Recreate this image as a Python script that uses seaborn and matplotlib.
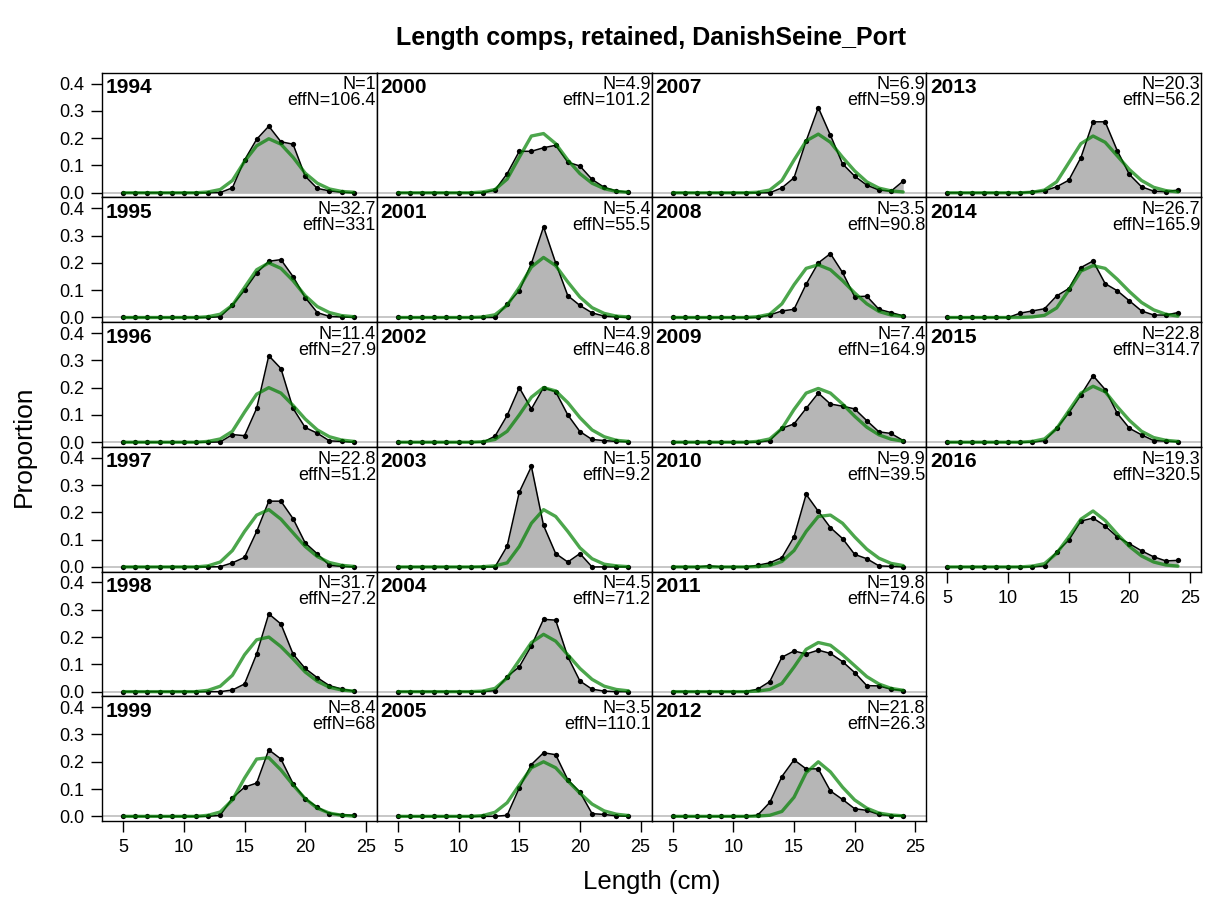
import matplotlib
matplotlib.use("Agg")
import matplotlib.pyplot as plt
import seaborn as sns
import numpy as np
import pandas as pd

# ---------------- data ----------------
bins = list(range(5, 25))

years_col1 = [1994, 1995, 1996, 1997, 1998, 1999]
years_col2 = [2000, 2001, 2002, 2003, 2004, 2005]
years_col3 = [2007, 2008, 2009, 2010, 2011, 2012]
years_col4 = [2013, 2014, 2015, 2016]

N_vals = {1994: "1", 1995: "32.7", 1996: "11.4", 1997: "22.8", 1998: "31.7", 1999: "8.4",
          2000: "4.9", 2001: "5.4", 2002: "4.9", 2003: "1.5", 2004: "4.5", 2005: "3.5",
          2007: "6.9", 2008: "3.5", 2009: "7.4", 2010: "9.9", 2011: "19.8", 2012: "21.8",
          2013: "20.3", 2014: "26.7", 2015: "22.8", 2016: "19.3"}
effN_vals = {1994: "106.4", 1995: "331", 1996: "27.9", 1997: "51.2", 1998: "27.2", 1999: "68",
             2000: "101.2", 2001: "55.5", 2002: "46.8", 2003: "9.2", 2004: "71.2", 2005: "110.1",
             2007: "59.9", 2008: "90.8", 2009: "164.9", 2010: "39.5", 2011: "74.6", 2012: "26.3",
             2013: "56.2", 2014: "165.9", 2015: "314.7", 2016: "320.5"}

# observed proportions, bins 5..24
obs_1994 = [0, 0, 0, 0, 0, 0, 0, 0, 0.001, 0.018, 0.120, 0.196, 0.244, 0.187, 0.178, 0.061, 0.016, 0.007, 0.002, 0.0]
obs_1995 = [0, 0, 0, 0, 0, 0, 0, 0, 0.003, 0.045, 0.100, 0.163, 0.206, 0.212, 0.150, 0.073, 0.018, 0.004, 0.002, 0.0]
obs_1996 = [0, 0, 0, 0, 0, 0, 0, 0, 0.001, 0.028, 0.024, 0.124, 0.317, 0.270, 0.124, 0.054, 0.033, 0.005, 0.003, 0.0]
obs_1997 = [0, 0, 0, 0, 0, 0, 0, 0, 0.001, 0.015, 0.035, 0.130, 0.241, 0.241, 0.177, 0.088, 0.048, 0.006, 0.002, 0.0]
obs_1998 = [0, 0, 0, 0, 0, 0, 0, 0, 0.0, 0.006, 0.028, 0.138, 0.285, 0.248, 0.138, 0.085, 0.051, 0.022, 0.010, 0.002]
obs_1999 = [0, 0, 0, 0, 0, 0, 0, 0, 0.004, 0.067, 0.107, 0.122, 0.244, 0.210, 0.120, 0.065, 0.034, 0.010, 0.006, 0.004]
obs_2000 = [0, 0, 0, 0, 0, 0, 0, 0, 0.010, 0.070, 0.152, 0.152, 0.165, 0.174, 0.112, 0.098, 0.049, 0.020, 0.007, 0.002]
obs_2001 = [0, 0, 0, 0, 0, 0, 0, 0, 0.0, 0.049, 0.098, 0.198, 0.332, 0.200, 0.080, 0.044, 0.017, 0.005, 0.002, 0.0]
obs_2002 = [0, 0, 0, 0, 0, 0, 0, 0, 0.022, 0.098, 0.200, 0.122, 0.200, 0.185, 0.100, 0.039, 0.010, 0.006, 0.003, 0.002]
obs_2003 = [0, 0, 0, 0, 0, 0, 0, 0, 0.0, 0.076, 0.274, 0.368, 0.152, 0.049, 0.018, 0.049, 0.0, 0.0, 0.0, 0.0]
obs_2004 = [0, 0, 0, 0, 0, 0, 0, 0, 0.004, 0.055, 0.091, 0.168, 0.265, 0.262, 0.128, 0.039, 0.009, 0.002, 0.0, 0.0]
obs_2005 = [0, 0, 0, 0, 0, 0, 0, 0, 0.0, 0.004, 0.104, 0.190, 0.233, 0.226, 0.134, 0.089, 0.010, 0.007, 0.002, 0.0]
obs_2007 = [0, 0, 0, 0, 0, 0, 0, 0, 0.0, 0.018, 0.055, 0.190, 0.312, 0.211, 0.106, 0.061, 0.028, 0.010, 0.006, 0.043]
obs_2008 = [0, 0, 0, 0, 0, 0, 0, 0, 0.009, 0.024, 0.030, 0.122, 0.200, 0.234, 0.165, 0.076, 0.078, 0.030, 0.018, 0.006]
obs_2009 = [0, 0, 0, 0, 0, 0, 0, 0, 0.006, 0.051, 0.067, 0.124, 0.180, 0.140, 0.132, 0.122, 0.079, 0.038, 0.032, 0.006]
obs_2010 = [0, 0, 0, 0.004, 0, 0, 0, 0.006, 0.015, 0.034, 0.110, 0.266, 0.204, 0.144, 0.104, 0.046, 0.030, 0.004, 0.002, 0.0]
obs_2011 = [0, 0, 0, 0, 0, 0, 0, 0.009, 0.037, 0.126, 0.149, 0.138, 0.152, 0.140, 0.110, 0.070, 0.022, 0.021, 0.009, 0.004]
obs_2012 = [0, 0, 0, 0, 0, 0, 0, 0.004, 0.051, 0.146, 0.207, 0.174, 0.174, 0.093, 0.062, 0.028, 0.022, 0.007, 0.002, 0.002]
obs_2013 = [0, 0, 0, 0, 0, 0, 0, 0.004, 0.007, 0.022, 0.046, 0.129, 0.260, 0.260, 0.154, 0.067, 0.022, 0.006, 0.004, 0.010]
obs_2014 = [0, 0, 0, 0, 0, 0, 0.016, 0.024, 0.032, 0.079, 0.106, 0.183, 0.207, 0.124, 0.098, 0.061, 0.024, 0.009, 0.009, 0.018]
obs_2015 = [0, 0, 0, 0, 0, 0, 0, 0, 0.006, 0.051, 0.107, 0.173, 0.244, 0.193, 0.106, 0.051, 0.027, 0.006, 0.004, 0.002]
obs_2016 = [0, 0, 0, 0, 0, 0, 0, 0, 0.004, 0.055, 0.098, 0.168, 0.179, 0.150, 0.110, 0.085, 0.059, 0.037, 0.022, 0.024]

# expected proportions, bins 5..24
exp_1994 = [0, 0, 0, 0, 0, 0, 0, 0.003, 0.012, 0.045, 0.115, 0.172, 0.198, 0.178, 0.130, 0.072, 0.035, 0.014, 0.005, 0.002]
exp_1995 = [0, 0, 0, 0, 0, 0, 0, 0.003, 0.012, 0.045, 0.110, 0.175, 0.200, 0.180, 0.135, 0.080, 0.040, 0.018, 0.007, 0.003]
exp_1996 = [0, 0, 0, 0, 0, 0, 0, 0.003, 0.012, 0.040, 0.110, 0.176, 0.200, 0.180, 0.135, 0.085, 0.045, 0.020, 0.008, 0.003]
exp_1997 = [0, 0, 0, 0, 0, 0, 0, 0.004, 0.018, 0.060, 0.130, 0.190, 0.210, 0.175, 0.125, 0.075, 0.038, 0.016, 0.006, 0.002]
exp_1998 = [0, 0, 0, 0, 0, 0, 0, 0.005, 0.020, 0.060, 0.135, 0.190, 0.200, 0.165, 0.120, 0.072, 0.038, 0.016, 0.006, 0.002]
exp_1999 = [0, 0, 0, 0, 0, 0, 0, 0.004, 0.016, 0.060, 0.140, 0.210, 0.215, 0.170, 0.115, 0.065, 0.030, 0.012, 0.004, 0.001]
exp_2000 = [0, 0, 0, 0, 0, 0, 0, 0.003, 0.012, 0.050, 0.130, 0.208, 0.217, 0.180, 0.120, 0.070, 0.035, 0.015, 0.005, 0.002]
exp_2001 = [0, 0, 0, 0, 0, 0, 0, 0.002, 0.010, 0.045, 0.110, 0.185, 0.220, 0.190, 0.130, 0.075, 0.036, 0.015, 0.005, 0.002]
exp_2002 = [0, 0, 0, 0, 0, 0, 0, 0.002, 0.010, 0.040, 0.100, 0.165, 0.200, 0.188, 0.145, 0.090, 0.045, 0.020, 0.007, 0.003]
exp_2003 = [0, 0, 0, 0, 0, 0, 0, 0.001, 0.004, 0.015, 0.075, 0.160, 0.210, 0.185, 0.130, 0.070, 0.030, 0.010, 0.004, 0.001]
exp_2004 = [0, 0, 0, 0, 0, 0, 0, 0.002, 0.012, 0.050, 0.115, 0.180, 0.210, 0.185, 0.135, 0.085, 0.045, 0.020, 0.008, 0.003]
exp_2005 = [0, 0, 0, 0, 0, 0, 0, 0.003, 0.015, 0.050, 0.115, 0.178, 0.200, 0.178, 0.130, 0.085, 0.045, 0.020, 0.008, 0.003]
exp_2007 = [0, 0, 0, 0, 0, 0, 0, 0.002, 0.010, 0.045, 0.120, 0.190, 0.215, 0.185, 0.130, 0.080, 0.040, 0.017, 0.007, 0.003]
exp_2008 = [0, 0, 0, 0, 0, 0, 0, 0.003, 0.012, 0.050, 0.120, 0.180, 0.193, 0.175, 0.135, 0.090, 0.050, 0.022, 0.009, 0.004]
exp_2009 = [0, 0, 0, 0, 0, 0, 0, 0.003, 0.012, 0.050, 0.120, 0.180, 0.197, 0.180, 0.140, 0.095, 0.055, 0.027, 0.011, 0.004]
exp_2010 = [0, 0, 0, 0, 0, 0, 0, 0.001, 0.005, 0.020, 0.060, 0.130, 0.185, 0.190, 0.160, 0.110, 0.065, 0.032, 0.013, 0.005]
exp_2011 = [0, 0, 0, 0, 0, 0, 0, 0.002, 0.008, 0.030, 0.090, 0.155, 0.180, 0.170, 0.135, 0.095, 0.055, 0.028, 0.012, 0.005]
exp_2012 = [0, 0, 0, 0, 0, 0, 0, 0.001, 0.004, 0.018, 0.070, 0.160, 0.200, 0.163, 0.107, 0.060, 0.030, 0.012, 0.005, 0.002]
exp_2013 = [0, 0, 0, 0, 0, 0, 0, 0.002, 0.010, 0.040, 0.110, 0.180, 0.208, 0.185, 0.135, 0.085, 0.045, 0.020, 0.008, 0.003]
exp_2014 = [0, 0, 0, 0, 0, 0, 0, 0.002, 0.008, 0.035, 0.100, 0.170, 0.190, 0.180, 0.140, 0.095, 0.055, 0.028, 0.012, 0.005]
exp_2015 = [0, 0, 0, 0, 0, 0, 0, 0.003, 0.012, 0.050, 0.115, 0.180, 0.205, 0.185, 0.130, 0.080, 0.040, 0.017, 0.007, 0.003]
exp_2016 = [0, 0, 0, 0, 0, 0, 0, 0.003, 0.012, 0.050, 0.110, 0.175, 0.205, 0.170, 0.120, 0.075, 0.040, 0.018, 0.007, 0.003]

y_ticks = [0.0, 0.1, 0.2, 0.3, 0.4]
x_ticks = [5, 10, 15, 20, 25]

title_text = "Length comps, retained, DanishSeine_Port"
xlabel_text = "Length (cm)"
ylabel_text = "Proportion"

observed = {y: globals()["obs_%d" % y] for y in years_col1 + years_col2 + years_col3 + years_col4}
expected = {y: globals()["exp_%d" % y] for y in years_col1 + years_col2 + years_col3 + years_col4}

rows = []
for yr in observed:
    for b, o, e in zip(bins, observed[yr], expected[yr]):
        rows.append({"year": yr, "length": b, "obs": o, "exp": e})
df = pd.DataFrame(rows)

# ---------------- style ----------------
sns.set_style("ticks")
plt.rcParams["font.family"] = ["Liberation Sans", "DejaVu Sans"]
plt.rcParams["text.color"] = "black"
plt.rcParams["axes.labelcolor"] = "black"
plt.rcParams["xtick.color"] = "black"
plt.rcParams["ytick.color"] = "black"

fig = plt.figure(figsize=(12.08, 9.09), dpi=100)
gs = fig.add_gridspec(6, 4, left=102 / 1208, right=1201 / 1208,
                      top=1 - 72.7 / 909, bottom=1 - 821 / 909,
                      hspace=0, wspace=0)

columns = [years_col1, years_col2, years_col3, years_col4]
green = (0, 0.5, 0, 0.7)

for c, col_years in enumerate(columns):
    for r, yr in enumerate(col_years):
        ax = fig.add_subplot(gs[r, c])
        d = df[df["year"] == yr]
        ax.axhline(0, color="#bebebe", lw=1.2, zorder=1)
        ax.fill_between(d["length"], d["obs"], 0, color="#b6b6b6", lw=0, zorder=2)
        sns.lineplot(data=d, x="length", y="obs", color="black", lw=1.1,
                     marker="o", markersize=3.8, markeredgewidth=0, ax=ax, zorder=3)
        sns.lineplot(data=d, x="length", y="exp", color=green, lw=2.4, ax=ax, zorder=4)
        ax.set_xlim(3.25, 25.9)
        ax.set_ylim(-0.017, 0.44)
        ax.set_xlabel("")
        ax.set_ylabel("")
        for s in ax.spines.values():
            s.set_color("black")
            s.set_linewidth(1.0)
        ax.text(0.014, 0.955, str(yr), transform=ax.transAxes, ha="left", va="top",
                fontsize=15, fontweight="bold")
        ax.text(0.997, 0.97, "N=%s\neffN=%s" % (N_vals[yr], effN_vals[yr]),
                transform=ax.transAxes, ha="right", va="top", fontsize=13,
                linespacing=0.92)
        ax.tick_params(direction="out", length=8, width=1, labelsize=13, pad=5, color="black")
        if c == 0:
            ax.set_yticks(y_ticks)
            ax.set_yticklabels(["%.1f" % v for v in y_ticks])
        else:
            ax.set_yticks([])
        if r == len(col_years) - 1:
            ax.set_xticks(x_ticks)
            ax.set_xticklabels([str(v) for v in x_ticks])
        else:
            ax.set_xticks([])

fig.text((102 + 1201) / 2 / 1208, 1 - 38 / 909, title_text, ha="center", va="center",
         fontsize=18, fontweight="bold")
fig.text((102 + 1201) / 2 / 1208, 1 - 882 / 909, xlabel_text, ha="center", va="center",
         fontsize=18.5)
fig.text(24 / 1208, 1 - 446 / 909, ylabel_text, ha="center", va="center",
         rotation=90, fontsize=19)

fig.savefig("out.png", dpi=100)
